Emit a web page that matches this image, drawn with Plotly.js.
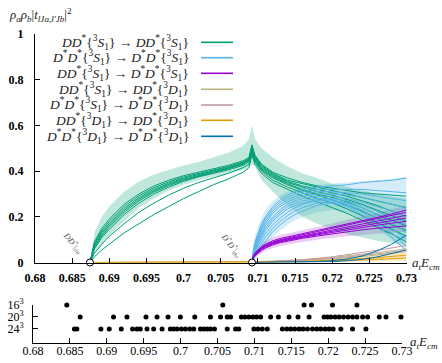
<!DOCTYPE html>
<html><head><meta charset="utf-8">
<script src="https://cdn.plot.ly/plotly-3.0.1.min.js"></script>
<style>body{margin:0;padding:0;background:#fff}#c{width:442px;height:363px}</style>
</head><body><div id="c"></div>
<script>
// ---------- DATA ----------
const xTicks = [0.68,0.685,0.69,0.695,0.7,0.705,0.71,0.715,0.72,0.725,0.73];
const xTickText = ["0.68","0.685","0.69","0.695","0.7","0.705","0.71","0.715","0.72","0.725","0.73"];
const yTicks = [0,0.2,0.4,0.6,0.8,1];
const yTickText = ["0","0.2","0.4","0.6","0.8","1"];

const legendNames = [
 "<i>DD</i><sup>*</sup>{<sup>3</sup><i>S</i><sub>1</sub>} → <i>DD</i><sup>*</sup>{<sup>3</sup><i>S</i><sub>1</sub>}",
 "<i>D</i><sup>*</sup><i>D</i><sup>*</sup>{<sup>3</sup><i>S</i><sub>1</sub>} → <i>D</i><sup>*</sup><i>D</i><sup>*</sup>{<sup>3</sup><i>S</i><sub>1</sub>}",
 "<i>DD</i><sup>*</sup>{<sup>3</sup><i>S</i><sub>1</sub>} → <i>D</i><sup>*</sup><i>D</i><sup>*</sup>{<sup>3</sup><i>S</i><sub>1</sub>}",
 "<i>DD</i><sup>*</sup>{<sup>3</sup><i>S</i><sub>1</sub>} → <i>DD</i><sup>*</sup>{<sup>3</sup><i>D</i><sub>1</sub>}",
 "<i>D</i><sup>*</sup><i>D</i><sup>*</sup>{<sup>3</sup><i>S</i><sub>1</sub>} → <i>D</i><sup>*</sup><i>D</i><sup>*</sup>{<sup>3</sup><i>D</i><sub>1</sub>}",
 "<i>DD</i><sup>*</sup>{<sup>3</sup><i>D</i><sub>1</sub>} → <i>DD</i><sup>*</sup>{<sup>3</sup><i>D</i><sub>1</sub>}",
 "<i>D</i><sup>*</sup><i>D</i><sup>*</sup>{<sup>3</sup><i>D</i><sub>1</sub>} → <i>D</i><sup>*</sup><i>D</i><sup>*</sup>{<sup>3</sup><i>D</i><sub>1</sub>}"
];
const colors = ["#009e73","#56b4e9","#9400d3","#bdb580","#c09aa6","#e69f00","#0072b2"];

const thrX = [0.6874, 0.7092];
const thrY = [0, 0];

// DD* -> DD* (3S1) channel
const xDD = [0.6874,0.688,0.689,0.690,0.692,0.694,0.696,0.698,0.700,0.702,0.704,0.706,0.708,0.7088,0.7092,
             0.7096,0.7105,0.712,0.714,0.716,0.718,0.720,0.722,0.724,0.726,0.728,0.730];
const ddUpper = [0,0.13,0.2,0.245,0.31,0.355,0.385,0.405,0.425,0.44,0.46,0.48,0.51,0.54,0.60,
                 0.54,0.50,0.46,0.42,0.39,0.37,0.345,0.33,0.315,0.30,0.29,0.28];
const ddLower = [0,0.04,0.08,0.12,0.18,0.24,0.28,0.315,0.34,0.36,0.375,0.39,0.405,0.415,0.43,
                 0.42,0.36,0.31,0.25,0.20,0.17,0.145,0.125,0.11,0.095,0.085,0.075];
const ddCurve1 = [0,0.09,0.15,0.19,0.255,0.30,0.335,0.36,0.38,0.395,0.41,0.425,0.445,0.46,0.515,
                  0.47,0.43,0.395,0.37,0.35,0.335,0.325,0.315,0.305,0.30,0.295,0.29];
const ddCurve2 = [0,0.085,0.14,0.18,0.245,0.292,0.327,0.353,0.374,0.39,0.405,0.42,0.44,0.455,0.51,
                  0.465,0.425,0.39,0.36,0.345,0.33,0.315,0.30,0.285,0.27,0.255,0.24];
const ddCurve3 = [0,0.078,0.132,0.171,0.236,0.284,0.32,0.347,0.369,0.386,0.401,0.416,0.436,0.452,0.505,
                  0.46,0.42,0.385,0.355,0.335,0.32,0.305,0.29,0.27,0.25,0.225,0.20];
const ddCurve4 = [0,0.072,0.125,0.163,0.228,0.277,0.314,0.342,0.364,0.382,0.397,0.413,0.433,0.449,0.50,
                  0.455,0.415,0.38,0.35,0.33,0.31,0.295,0.275,0.255,0.23,0.205,0.18];
const ddCurve5 = [0,0.066,0.117,0.155,0.22,0.27,0.308,0.337,0.36,0.378,0.394,0.41,0.43,0.446,0.495,
                  0.45,0.41,0.375,0.345,0.32,0.30,0.285,0.265,0.24,0.21,0.185,0.16];
const ddCurve6 = [0,0.06,0.11,0.145,0.21,0.26,0.30,0.33,0.355,0.375,0.39,0.405,0.425,0.44,0.49,
                  0.445,0.405,0.37,0.34,0.315,0.295,0.275,0.25,0.225,0.195,0.165,0.14];
const ddCurve7 = [0,0.04,0.08,0.115,0.17,0.22,0.26,0.295,0.325,0.35,0.37,0.39,0.415,0.43,0.48,
                  0.44,0.40,0.36,0.33,0.305,0.28,0.26,0.235,0.205,0.175,0.145,0.115];
const ddCurve8 = [0,0.025,0.055,0.08,0.13,0.17,0.21,0.245,0.28,0.31,0.34,0.365,0.395,0.415,0.47,
                  0.43,0.39,0.35,0.32,0.29,0.265,0.24,0.215,0.185,0.155,0.125,0.09];

// D*D* threshold channels
const xVV = [0.7092,0.7094,0.7097,0.7100,0.7105,0.711,0.712,0.713,0.714,0.715,0.716,0.718,0.720,0.722,0.724,0.726,0.728,0.730];
const vvUpper = [0,0.08,0.125,0.16,0.20,0.23,0.27,0.295,0.31,0.32,0.33,0.34,0.345,0.35,0.355,0.36,0.365,0.375];
const vvLower = [0,0.01,0.025,0.035,0.05,0.07,0.11,0.14,0.165,0.185,0.20,0.22,0.23,0.22,0.19,0.15,0.10,0.05];
const vvCurve1 = [0,0.06,0.10,0.13,0.17,0.20,0.245,0.275,0.295,0.31,0.32,0.33,0.335,0.34,0.35,0.355,0.36,0.37];
const vvCurve2 = [0,0.05,0.09,0.12,0.16,0.19,0.235,0.265,0.285,0.30,0.31,0.32,0.32,0.32,0.32,0.315,0.31,0.305];
const vvCurve3 = [0,0.045,0.08,0.11,0.15,0.18,0.225,0.255,0.275,0.29,0.30,0.31,0.31,0.305,0.30,0.29,0.28,0.27];
const vvCurve4 = [0,0.04,0.075,0.10,0.14,0.17,0.215,0.245,0.265,0.28,0.29,0.30,0.30,0.295,0.285,0.27,0.255,0.24];
const vvCurve5 = [0,0.035,0.07,0.095,0.13,0.16,0.20,0.23,0.255,0.27,0.28,0.29,0.29,0.28,0.265,0.245,0.225,0.20];
const vvCurve6 = [0,0.03,0.06,0.085,0.12,0.15,0.19,0.22,0.245,0.26,0.27,0.28,0.28,0.27,0.25,0.225,0.195,0.165];
const vvCurve7 = [0,0.03,0.055,0.08,0.11,0.14,0.18,0.21,0.235,0.25,0.26,0.275,0.275,0.26,0.24,0.21,0.175,0.13];
const vvCurve8 = [0,0.025,0.05,0.07,0.10,0.125,0.165,0.195,0.22,0.24,0.255,0.27,0.27,0.255,0.23,0.195,0.15,0.10];
const vvCurve9 = [0,0.02,0.04,0.06,0.085,0.11,0.15,0.18,0.205,0.225,0.24,0.26,0.265,0.25,0.22,0.18,0.13,0.07];
const vvCurve10 = [0,0.015,0.035,0.05,0.07,0.095,0.135,0.165,0.19,0.21,0.225,0.25,0.26,0.245,0.21,0.165,0.11,0.05];

const dvUpper = [0,0.04,0.056,0.068,0.084,0.095,0.11,0.12,0.128,0.134,0.141,0.155,0.17,0.186,0.202,0.218,0.234,0.25];
const dvLower = [0,0.012,0.022,0.03,0.041,0.05,0.063,0.072,0.079,0.085,0.09,0.1,0.108,0.115,0.12,0.125,0.13,0.135];
const dvCurve1 = [0,0.03,0.045,0.055,0.07,0.08,0.095,0.105,0.112,0.118,0.125,0.138,0.152,0.167,0.182,0.197,0.212,0.23];
const dvCurve2 = [0,0.028,0.042,0.052,0.066,0.076,0.09,0.10,0.107,0.113,0.12,0.133,0.147,0.161,0.175,0.19,0.204,0.22];
const dvCurve3 = [0,0.026,0.04,0.05,0.063,0.073,0.087,0.097,0.104,0.11,0.116,0.129,0.142,0.155,0.168,0.181,0.194,0.207];
const dvCurve4 = [0,0.024,0.038,0.047,0.06,0.07,0.084,0.094,0.101,0.107,0.113,0.125,0.137,0.149,0.161,0.173,0.185,0.195];
const dvCurve5 = [0,0.022,0.035,0.044,0.057,0.067,0.081,0.091,0.098,0.104,0.11,0.121,0.132,0.143,0.153,0.163,0.172,0.18];
const dvCurve6 = [0,0.02,0.032,0.041,0.053,0.063,0.077,0.087,0.094,0.10,0.106,0.116,0.126,0.135,0.143,0.15,0.156,0.16];

// small D-wave channels
const xSmallDD = [0.6874,0.695,0.7,0.705,0.7092,0.712,0.716,0.72,0.724,0.727,0.73];
const sdCurve1 = [0,0.0005,0.001,0.002,0.004,0.006,0.012,0.022,0.035,0.047,0.06];
const sdCurve2 = [0,0.0003,0.0007,0.0015,0.003,0.005,0.009,0.016,0.026,0.036,0.047];
const ddDUpper = [0,0.0005,0.001,0.002,0.003,0.005,0.009,0.016,0.026,0.036,0.046];
const ddDLower = [0,0,0,0,0,0,0.001,0.002,0.004,0.006,0.008];
const ddDCurve1 = [0,0,0.0002,0.0005,0.001,0.002,0.005,0.01,0.017,0.024,0.032];
const ddDCurve2 = [0,0,0.0001,0.0003,0.0006,0.001,0.003,0.006,0.01,0.015,0.02];
const xSmallVV = [0.7092,0.712,0.716,0.72,0.724,0.727,0.73];
const svCurve1 = [0,0.004,0.012,0.025,0.042,0.058,0.075];
const svCurve2 = [0,0.003,0.009,0.018,0.03,0.041,0.054];
const xVVD = [0.7092,0.714,0.718,0.72,0.722,0.724,0.726,0.728,0.73];
const vvDCurve1 = [0,0.001,0.004,0.008,0.015,0.028,0.05,0.08,0.12];
const vvDCurve2 = [0,0.0005,0.002,0.004,0.008,0.014,0.024,0.038,0.055];

// volumes / energy levels
const volTickVals = [3,2,1];
const volTickText = ["16<sup>3</sup>","20<sup>3</sup>","24<sup>3</sup>"];
const levels16 = [0.68458,0.70572,0.71673,0.71773,0.72058,0.72389];
const levels20 = [0.68639,0.69091,0.69273,0.69531,0.69681,0.69830,0.69997,0.70192,0.70405,0.70541,0.70632,0.70677,
  0.70822,0.70871,0.70925,0.70980,0.71030,0.71084,0.71220,0.71325,0.71469,0.71591,0.71741,0.71944,0.71990,0.72035,
  0.72094,0.72148,0.72208,0.72270,0.72330,0.72389,0.72466,0.72534,0.72692,0.72783,0.72986];
const levels24 = [0.68561,0.68594,0.68920,0.69033,0.69196,0.69349,0.69409,0.69454,0.69545,0.69635,0.69749,0.69861,
  0.69906,0.69952,0.70011,0.70065,0.70124,0.70178,0.70269,0.70314,0.70360,0.70405,0.70459,0.70632,0.70745,0.70789,
  0.70993,0.71048,0.71107,0.71175,0.71379,0.71438,0.71492,0.71546,0.71605,0.71659,0.71719,0.71787,0.71845,0.71899,
  0.71958,0.72012,0.72067,0.72171,0.72330,0.72511];

// ---------- PLOT ----------
const W=442,H=363;
const px=x=>x/W, py=y=>1-y/H;
const traces=[];
function band(x,lo,up,col){
  traces.push({x:x,y:lo,mode:'lines',line:{width:0},hoverinfo:'skip',showlegend:false});
  traces.push({x:x,y:up,mode:'lines',line:{width:0},fill:'tonexty',fillcolor:col,hoverinfo:'skip',showlegend:false});
}
function line(x,y,col,w){traces.push({x:x,y:y,mode:'lines',line:{color:col,width:w||1},showlegend:false,hoverinfo:'skip'});}

band(xSmallDD,ddDLower,ddDUpper,'rgba(230,159,0,0.25)');
band(xVV,dvLower,dvUpper,'rgba(148,0,211,0.2)');
band(xVV,vvLower,vvUpper,'rgba(86,180,233,0.25)');
band(xDD,ddLower,ddUpper,'rgba(0,158,115,0.25)');

[ddCurve1,ddCurve2,ddCurve3,ddCurve4,ddCurve5,ddCurve6,ddCurve7,ddCurve8].forEach(c=>line(xDD,c,colors[0]));
[vvCurve1,vvCurve2,vvCurve3,vvCurve4,vvCurve5,vvCurve6,vvCurve7,vvCurve8,vvCurve9,vvCurve10].forEach(c=>line(xVV,c,colors[1]));
[dvCurve1,dvCurve2,dvCurve3,dvCurve4,dvCurve5,dvCurve6].forEach(c=>line(xVV,c,colors[2]));
[sdCurve1,sdCurve2].forEach(c=>line(xSmallDD,c,colors[3]));
[svCurve1,svCurve2].forEach(c=>line(xSmallVV,c,colors[4]));
[ddDCurve1,ddDCurve2].forEach(c=>line(xSmallDD,c,colors[5]));
[vvDCurve1,vvDCurve2].forEach(c=>line(xVVD,c,colors[6]));

traces.push({x:thrX,y:thrY,mode:'markers',marker:{size:7,color:'#fff',line:{color:'#000',width:1}},cliponaxis:false,showlegend:false,hoverinfo:'skip'});

traces.push({x:levels16,y:levels16.map(()=>3),xaxis:'x2',yaxis:'y2',mode:'markers',marker:{size:5,color:'#000'},showlegend:false,hoverinfo:'skip',cliponaxis:false});
traces.push({x:levels20,y:levels20.map(()=>2),xaxis:'x2',yaxis:'y2',mode:'markers',marker:{size:5,color:'#000'},showlegend:false,hoverinfo:'skip',cliponaxis:false});
traces.push({x:levels24,y:levels24.map(()=>1),xaxis:'x2',yaxis:'y2',mode:'markers',marker:{size:5,color:'#000'},showlegend:false,hoverinfo:'skip',cliponaxis:false});

const serif='Liberation Serif';
const boldTick={family:serif,size:12,color:'#000',weight:'bold'};
const plainTick={family:serif,size:12,color:'#000'};

const annotations=[];
const shapes=[];
const legY=[42.3,57.7,73.3,89.3,105,120.3,136.3];
legendNames.forEach((t,i)=>{
  annotations.push({xref:'paper',yref:'paper',x:px(191),y:py(legY[i]),xanchor:'right',yanchor:'middle',text:t,showarrow:false,font:{family:serif,size:13.5,color:'#222'}});
  shapes.push({type:'line',xref:'paper',yref:'paper',x0:px(201),x1:px(233),y0:py(legY[i]),y1:py(legY[i]),line:{color:colors[i],width:1.6}});
});
annotations.push({xref:'paper',yref:'paper',x:px(7),y:py(15),xanchor:'left',yanchor:'middle',showarrow:false,
  text:"<i>ρ<sub>a</sub>ρ<sub>b</sub></i>|<i>t</i><sub><i>lJa,l'Jb</i></sub>|<sup>2</sup>",font:{family:serif,size:13,color:'#222'}});
annotations.push({xref:'paper',yref:'paper',x:px(410),y:py(263),xanchor:'left',yanchor:'middle',showarrow:false,
  text:"<i>a<sub>t</sub>E<sub>cm</sub></i>",font:{family:serif,size:13,color:'#222'}});
annotations.push({xref:'paper',yref:'paper',x:px(408),y:py(342),xanchor:'left',yanchor:'middle',showarrow:false,
  text:"<i>a<sub>t</sub>E<sub>cm</sub></i>",font:{family:serif,size:13,color:'#222'}});
annotations.push({xref:'paper',yref:'paper',x:px(74),y:py(243),xanchor:'center',yanchor:'middle',showarrow:false,textangle:50,
  text:"<i>DD</i><sup>*</sup>|<sub><i>thr</i></sub>",font:{family:serif,size:8.5,color:'#555'}});
annotations.push({xref:'paper',yref:'paper',x:px(232),y:py(245),xanchor:'center',yanchor:'middle',showarrow:false,textangle:52,
  text:"<i>D</i><sup>*</sup><i>D</i><sup>*</sup>|<sub><i>thr</i></sub>",font:{family:serif,size:8.5,color:'#555'}});

const layout={
  width:W,height:H,margin:{l:0,r:0,t:0,b:0},paper_bgcolor:'#fff',plot_bgcolor:'rgba(0,0,0,0)',showlegend:false,
  xaxis:{domain:[px(35),px(406.5)],range:[0.68,0.73],anchor:'y',showgrid:false,zeroline:false,showline:true,linecolor:'#000',linewidth:1.2,
    ticks:'inside',ticklen:5,tickcolor:'#000',tickvals:xTicks,ticktext:xTickText,tickfont:boldTick,ticklabelstandoff:4},
  yaxis:{domain:[py(262.5),py(34)],range:[0,1],anchor:'x',showgrid:false,zeroline:false,showline:true,linecolor:'#000',linewidth:1.2,
    ticks:'inside',ticklen:5,tickcolor:'#000',tickvals:yTicks,ticktext:yTickText,tickfont:boldTick,ticklabelstandoff:8},
  xaxis2:{domain:[px(33),px(402)],range:[0.68,0.73],anchor:'y2',showgrid:false,zeroline:false,showline:true,linecolor:'#000',linewidth:1,
    ticks:'inside',ticklen:5,tickcolor:'#000',tickvals:xTicks,ticktext:xTickText,tickfont:plainTick,ticklabelstandoff:-3},
  yaxis2:{domain:[py(343),py(305)],range:[-0.17,3],anchor:'x2',showgrid:false,zeroline:false,showline:true,linecolor:'#000',linewidth:1,
    ticks:'inside',ticklen:5,tickcolor:'#000',tickvals:volTickVals,ticktext:volTickText,tickfont:plainTick,ticklabelstandoff:6},
  annotations:annotations,shapes:shapes
};
Plotly.newPlot('c',traces,layout,{staticPlot:true});
</script></body></html>
